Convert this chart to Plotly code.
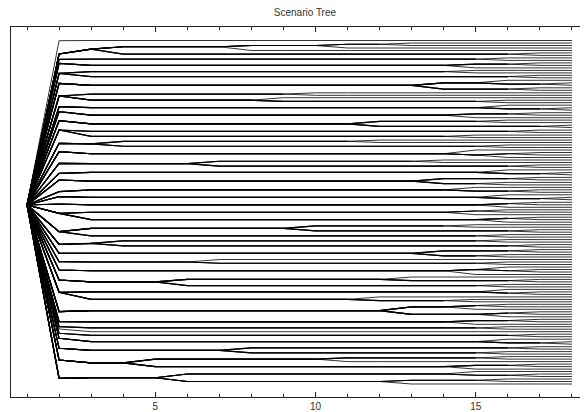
import plotly.graph_objects as go

# ---------------- data ----------------
stages = list(range(1, 19))
root_y = 205.0

# node positions at stage 2 (one per first-stage branch), top to bottom
stage2_y = [40.7, 54, 59.3, 63.3, 73.3, 83.3, 96, 106.7, 111.7, 120.7, 130,
            143.3, 151.7, 163.3, 173.3, 180, 191.7, 196.7, 204, 213.3, 231.7,
            244.3, 253.3, 261.7, 270, 280, 292.3, 311.7, 321.7, 326.7, 329,
            333.3, 338.3, 348.3, 360, 378.3]

# number of final scenarios under each stage-2 node
group_size = [1, 6, 2, 3, 4, 5, 5, 3, 3, 4, 4, 4, 4, 4, 3, 4, 3, 3, 3, 6, 6,
              4, 4, 3, 4, 5, 6, 6, 3, 2, 1, 2, 3, 4, 6, 6]

# stage at which neighbouring scenarios inside a branch become separate nodes
split_stage = [[], [13, 11, 8, 4, 17], [16], [17, 15], [15, 3, 17],
               [16, 18, 14, 17], [10, 3, 9, 16], [16, 18], [17, 15],
               [16, 12, 18], [17, 3, 15], [12, 4, 16], [15, 17, 16],
               [14, 7, 17], [16, 18], [17, 14, 16], [15, 17], [16, 18],
               [17, 16], [16, 15, 3, 17, 16], [15, 10, 17, 3, 16],
               [16, 4, 17], [17, 14, 16], [7, 16], [16, 17, 15],
               [13, 17, 6, 16], [16, 17, 3, 12, 15], [16, 15, 13, 17, 16],
               [17, 15], [16], [], [17], [16, 18], [17, 8, 16],
               [16, 11, 5, 17, 15], [15, 17, 6, 16, 13]]

# final scenario values at the last stage, top to bottom
leaf_y = [40.5, 43.0, 45.5, 48.0, 50.5, 52.9, 55.4, 57.9, 60.4, 62.9, 65.4,
          67.9, 70.4, 72.9, 75.3, 77.8, 80.3, 82.8, 85.3, 87.8, 90.3, 92.8,
          95.3, 97.7, 100.2, 102.7, 105.2, 107.7, 110.2, 112.7, 115.2, 117.7,
          120.1, 122.6, 125.1, 127.6, 130.1, 132.6, 135.1, 137.6, 140.1,
          142.5, 145.0, 147.5, 150.0, 152.5, 155.0, 157.5, 160.0, 162.5,
          164.9, 167.4, 169.9, 172.4, 174.9, 177.4, 179.9, 182.4, 184.9,
          187.4, 189.8, 192.3, 194.8, 197.3, 199.8, 202.3, 204.8, 207.3,
          209.8, 212.2, 214.7, 217.2, 219.7, 222.2, 224.7, 227.2, 229.7,
          232.2, 234.6, 237.1, 239.6, 242.1, 244.6, 247.1, 249.6, 252.1,
          254.6, 257.0, 259.5, 262.0, 264.5, 267.0, 269.5, 272.0, 274.5,
          277.0, 279.4, 281.9, 284.4, 286.9, 289.4, 291.9, 294.4, 296.9,
          299.4, 301.8, 304.3, 306.8, 309.3, 311.8, 314.3, 316.8, 319.3,
          321.8, 324.3, 326.7, 329.2, 331.7, 334.2, 336.7, 339.2, 341.7,
          344.2, 346.7, 349.1, 351.6, 354.1, 356.6, 359.1, 361.6, 364.1,
          366.6, 369.1, 371.5, 374.0, 376.5, 379.0, 381.5, 384.0]

# ---------------- build scenario paths ----------------
last = stages[-1]
thick_x, thick_y, thin_x, thin_y = [], [], [], []
pos = 0
for y2, n, seps in zip(stage2_y, group_size, split_stage):
    ys = leaf_y[pos:pos + n]
    pos += n
    path_y = [[root_y, y2] for _ in range(n)]
    shared_until = [2 if n > 1 else 1 for _ in range(n)]
    for t in range(3, last + 1):
        blocks = []
        start = 0
        for i in range(n - 1):
            if seps[i] <= t:
                blocks.append((start, i + 1))
                start = i + 1
        blocks.append((start, n))
        for a, b in blocks:
            yc = sum(ys[a:b]) / (b - a)
            for k in range(a, b):
                path_y[k].append(yc)
                if b - a > 1:
                    shared_until[k] = t
    for k in range(n):
        s = shared_until[k]
        thick_x += stages[:s] + [None]
        thick_y += path_y[k][:s] + [None]
        thin_x += stages[s - 1:] + [None]
        thin_y += path_y[k][s - 1:] + [None]

fig = go.Figure()
fig.add_trace(go.Scatter(x=thin_x, y=thin_y, mode="lines",
                         line=dict(color="black", width=0.8),
                         hoverinfo="skip", showlegend=False))
fig.add_trace(go.Scatter(x=thick_x, y=thick_y, mode="lines",
                         line=dict(color="black", width=1.2),
                         hoverinfo="skip", showlegend=False))

# page body adds an 8px offset, so the figure is 8px smaller and shifted
fig.update_layout(
    width=580, height=404,
    margin=dict(l=3, r=0, t=19, b=15),
    paper_bgcolor="white", plot_bgcolor="white",
    title=dict(text="Scenario Tree", x=0.512, xanchor="center",
               y=1 - 4.5 / 404, yanchor="middle", yref="container",
               font=dict(family="Liberation Sans", size=10, color="#333")),
    font=dict(family="Liberation Sans", size=10, color="#333"),
)
fig.update_xaxes(range=[0.5, 18.5], tickvals=[5, 10, 15], ticks="inside",
                 ticklen=5, tickcolor="#222", showline=True, linecolor="#222",
                 linewidth=1, mirror="ticks", showgrid=False, zeroline=False,
                 minor=dict(tickvals=stages, ticks="inside", ticklen=3,
                            tickcolor="#222", showgrid=False),
                 tickfont=dict(size=10, color="#333"))
fig.update_yaxes(range=[397, 27], showticklabels=False, ticks="",
                 showline=True, linecolor="#222", linewidth=1, mirror=False,
                 showgrid=False, zeroline=False)

fig.write_html("out.html")
